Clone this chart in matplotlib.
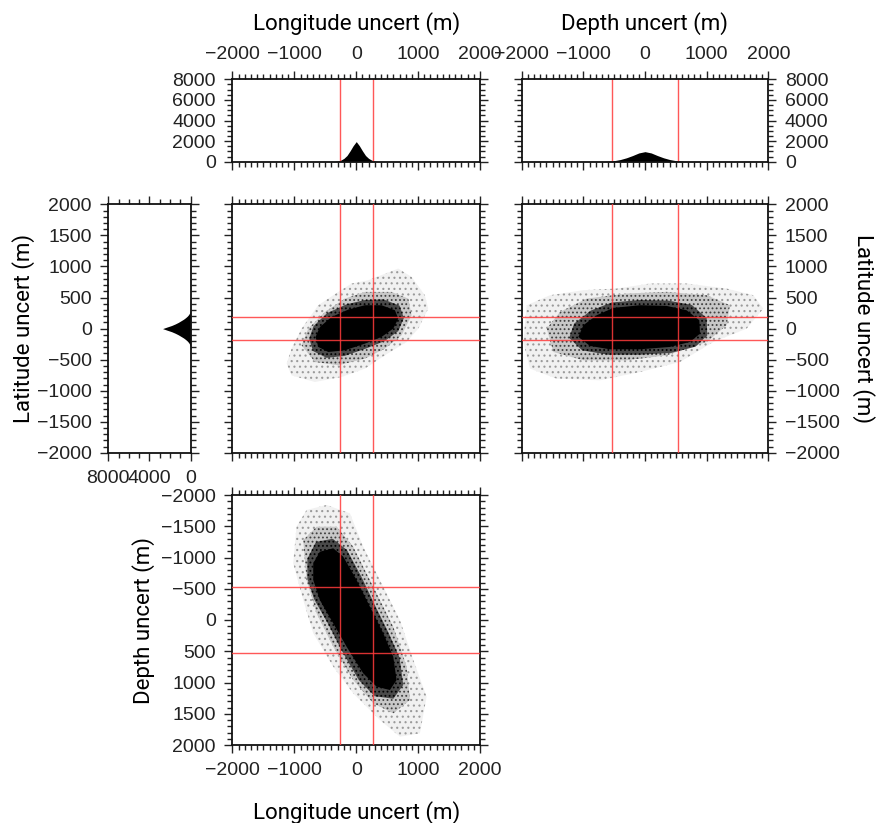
import matplotlib
matplotlib.use("Agg")
import matplotlib.pyplot as plt
from matplotlib.ticker import MultipleLocator

# ---------------- data ----------------
# histogram of longitude uncertainty (bin centre m, count)
lon_bins = [-450, -400, -350, -300, -250, -200, -150, -100, -50, 0,
            50, 100, 150, 200, 250, 300, 350, 400, 450]
lon_counts = [0, 5, 20, 60, 150, 320, 600, 1050, 1550, 1950,
              1550, 1050, 600, 320, 150, 60, 20, 5, 0]

# histogram of depth uncertainty
dep_bins = [-800, -700, -600, -500, -400, -300, -200, -100, 0,
            100, 200, 300, 400, 500, 600, 700, 800]
dep_counts = [0, 10, 40, 100, 210, 380, 600, 850, 975,
              850, 600, 380, 210, 100, 40, 10, 0]

# histogram of latitude uncertainty
lat_bins = [-325, -300, -275, -250, -225, -200, -175, -150, -125, -100, -75, -50, -25, 0,
            25, 50, 75, 100, 125, 150, 175, 200, 225, 250, 275, 300, 325]
lat_counts = [0, 20, 50, 110, 200, 330, 500, 700, 950, 1200, 1500, 1850, 2300, 2730,
              2300, 1850, 1500, 1200, 950, 700, 500, 330, 200, 110, 50, 20, 0]

# uncertainty limits (red lines)
lon_lim = [-270, 270]
lat_lim = [-188, 188]
dep_lim = [-533, 533]

# scatter clouds: outlines of density bands (sparse, medium, dense fringe, solid core)
# longitude vs latitude
ll_outer_lon = [-1125, -1045, -883, -614, -291, -75, 194, 679, 894, 1109, 1163, 1002, 813, 463, 140, -237, -668, -1045]
ll_outer_lat = [-564, -322, 0, 376, 590, 725, 778, 966, 832, 537, 322, 0, -215, -429, -644, -778, -859, -752]
ll_mid_lon = [-883, -775, -506, -183, 140, 571, 840, 894, 732, 463, 140, -291, -668]
ll_mid_lat = [-268, 0, 268, 483, 590, 590, 483, 215, -107, -322, -483, -590, -537]
ll_fringe_lon = [-760, -690, -470, -160, 140, 440, 700, 770, 680, 460, 160, -190, -480, -700]
ll_fringe_lat = [-160, 40, 250, 390, 460, 470, 370, 170, -40, -200, -320, -440, -470, -360]
ll_core_lon = [-657, -587, -398, -129, 140, 409, 625, 679, 598, 409, 140, -183, -452, -614]
ll_core_lat = [-134, 27, 188, 306, 376, 376, 295, 161, 0, -134, -242, -349, -376, -295]

# depth vs latitude
dl_outer_dep = [-1919, -1540, -1000, -459, 81, 676, 1324, 1757, 1919, 1649, 1108, 568, -81, -730, -1432, -1865, -1973]
dl_outer_lat = [376, 537, 618, 644, 725, 725, 644, 537, 322, 0, -215, -537, -698, -832, -806, -644, -215]
dl_mid_dep = [-1594, -1378, -946, -297, 351, 1000, 1378, 1324, 1000, 351, -297, -1000, -1486]
dl_mid_lat = [0, 269, 483, 564, 591, 537, 376, 54, -215, -430, -510, -510, -376]
dl_fringe_dep = [-1230, -1150, -880, -540, -80, 380, 760, 1000, 1010, 820, 430, -80, -600, -1020]
dl_fringe_lat = [-150, 80, 290, 420, 460, 450, 380, 170, -110, -290, -390, -420, -420, -350]
dl_core_dep = [-1081, -1000, -784, -513, -81, 351, 676, 881, 892, 730, 405, -81, -568, -892]
dl_core_lat = [-134, 54, 215, 333, 376, 365, 295, 134, -81, -215, -295, -333, -333, -279]

# longitude vs depth
ld_outer_lon = [-965, -803, -480, -102, 113, 437, 706, 922, 1137, 1029, 706, 383, -49, -372, -695, -857, -1019]
ld_outer_dep = [-1493, -1760, -1840, -1707, -1173, -533, 0, 640, 1227, 1813, 1867, 1600, 1173, 747, 213, -320, -907]
ld_mid_lon = [-857, -641, -318, -49, 275, 598, 814, 868, 598, 275, -49, -372, -641, -803]
ld_mid_dep = [-1280, -1493, -1493, -1173, -533, 107, 747, 1280, 1493, 1333, 960, 427, -107, -640]
ld_fringe_lon = [-790, -650, -380, -150, 90, 300, 520, 700, 760, 600, 300, 40, -240, -450, -680, -790]
ld_fringe_dep = [-980, -1250, -1300, -1120, -680, -240, 200, 600, 1040, 1260, 1220, 960, 480, 70, -330, -660]
ld_core_lon = [-695, -588, -372, -210, 5, 221, 437, 598, 652, 544, 329, 113, -156, -372, -588, -695]
ld_core_dep = [-907, -1093, -1147, -1013, -640, -213, 213, 587, 960, 1120, 1067, 853, 427, 53, -320, -640]

LON_LABEL = "Longitude uncert (m)"
LAT_LABEL = "Latitude uncert (m)"
DEP_LABEL = "Depth uncert (m)"

# ---------------- styling ----------------
plt.rcParams["font.family"] = ["Liberation Sans", "DejaVu Sans"]
plt.rcParams["font.size"] = 14
plt.rcParams["hatch.linewidth"] = 0.8
LABEL_FONT = dict(family=["Roboto", "DejaVu Sans"], fontsize=16, color="black")
RED = "#ff3b3b"
# (face colour, speckle colour, hatch) per band, from sparse to solid
BAND_STYLES = [("#f1f1f1", "#9a9a9a", "..."),
               ("#c8c8c8", "#404040", "...."),
               ("#4a4a4a", "#000000", "...."),
               ("#000000", "#000000", None)]

W, H = 878, 823
fig = plt.figure(figsize=(W / 100, H / 100), dpi=100)


def add_axes(left, top, right, bottom):
    return fig.add_axes([left / W, 1 - bottom / H, (right - left) / W, (bottom - top) / H])


def style(ax, xmaj, xmin, ymaj, ymin, lt=False, lb=False, ll=False, lr=False):
    ax.xaxis.set_major_locator(MultipleLocator(xmaj))
    ax.xaxis.set_minor_locator(MultipleLocator(xmin))
    ax.yaxis.set_major_locator(MultipleLocator(ymaj))
    ax.yaxis.set_minor_locator(MultipleLocator(ymin))
    ax.tick_params(which="both", direction="out", top=True, bottom=True, left=True, right=True,
                   width=1.0, color="#222222", labelcolor="#222222", pad=6,
                   labeltop=lt, labelbottom=lb, labelleft=ll, labelright=lr)
    ax.tick_params(which="major", length=6)
    ax.tick_params(which="minor", length=3.5)
    for s in ax.spines.values():
        s.set_linewidth(1.3)
        s.set_color("#111111")


x_lo, x_hi = 232.5, 480.0
r_lo, r_hi = 521.7, 768.3
t_lo, t_hi = 79.3, 161.7
m_lo, m_hi = 204.3, 452.9
b_lo, b_hi = 495.0, 745.0
l_lo, l_hi = 108.3, 190.7

ax_hlon = add_axes(x_lo, t_lo, x_hi, t_hi)
ax_hdep = add_axes(r_lo, t_lo, r_hi, t_hi)
ax_hlat = add_axes(l_lo, m_lo, l_hi, m_hi)
ax_ll = add_axes(x_lo, m_lo, x_hi, m_hi)
ax_dl = add_axes(r_lo, m_lo, r_hi, m_hi)
ax_ld = add_axes(x_lo, b_lo, x_hi, b_hi)

# --- top histograms
ax_hlon.fill_between(lon_bins, lon_counts, 0, color="black", lw=0)
for v in lon_lim:
    ax_hlon.axvline(v, color=RED, lw=1.0, alpha=0.85)
ax_hlon.set_xlim(-2000, 2000)
ax_hlon.set_ylim(0, 8000)
style(ax_hlon, 1000, 100, 2000, 500, lt=True, ll=True)
ax_hlon.xaxis.set_label_position("top")
ax_hlon.set_xlabel(LON_LABEL, labelpad=11, **LABEL_FONT)

ax_hdep.fill_between(dep_bins, dep_counts, 0, color="black", lw=0)
for v in dep_lim:
    ax_hdep.axvline(v, color=RED, lw=1.0, alpha=0.85)
ax_hdep.set_xlim(-2000, 2000)
ax_hdep.set_ylim(0, 8000)
style(ax_hdep, 1000, 100, 2000, 500, lt=True, lr=True)
ax_hdep.xaxis.set_label_position("top")
ax_hdep.set_xlabel(DEP_LABEL, labelpad=11, **LABEL_FONT)

# --- left histogram (latitude)
ax_hlat.fill_betweenx(lat_bins, lat_counts, 0, color="black", lw=0)
ax_hlat.set_xlim(8000, 0)
ax_hlat.set_ylim(-2000, 2000)
style(ax_hlat, 4000, 1000, 500, 100, lb=True, ll=True)
ax_hlat.set_ylabel(LAT_LABEL, labelpad=1, **LABEL_FONT)


def cloud(ax, bands):
    for (xs, ys), (fc, hc, hatch) in zip(bands, BAND_STYLES):
        ax.fill(xs, ys, facecolor=fc, edgecolor=hc, hatch=hatch, lw=0, zorder=1)


# --- longitude vs latitude
cloud(ax_ll, [(ll_outer_lon, ll_outer_lat), (ll_mid_lon, ll_mid_lat),
              (ll_fringe_lon, ll_fringe_lat), (ll_core_lon, ll_core_lat)])
for v in lon_lim:
    ax_ll.axvline(v, color=RED, lw=1.0, alpha=0.85, zorder=3)
for v in lat_lim:
    ax_ll.axhline(v, color=RED, lw=1.0, alpha=0.85, zorder=3)
ax_ll.set_xlim(-2000, 2000)
ax_ll.set_ylim(-2000, 2000)
style(ax_ll, 1000, 100, 500, 100)

# --- depth vs latitude
cloud(ax_dl, [(dl_outer_dep, dl_outer_lat), (dl_mid_dep, dl_mid_lat),
              (dl_fringe_dep, dl_fringe_lat), (dl_core_dep, dl_core_lat)])
for v in dep_lim:
    ax_dl.axvline(v, color=RED, lw=1.0, alpha=0.85, zorder=3)
for v in lat_lim:
    ax_dl.axhline(v, color=RED, lw=1.0, alpha=0.85, zorder=3)
ax_dl.set_xlim(-2000, 2000)
ax_dl.set_ylim(-2000, 2000)
style(ax_dl, 1000, 100, 500, 100, lr=True)
ax_dl.yaxis.set_label_position("right")
ax_dl.set_ylabel(LAT_LABEL, rotation=270, va="bottom", labelpad=9, **LABEL_FONT)

# --- longitude vs depth
cloud(ax_ld, [(ld_outer_lon, ld_outer_dep), (ld_mid_lon, ld_mid_dep),
              (ld_fringe_lon, ld_fringe_dep), (ld_core_lon, ld_core_dep)])
for v in lon_lim:
    ax_ld.axvline(v, color=RED, lw=1.0, alpha=0.85, zorder=3)
for v in dep_lim:
    ax_ld.axhline(v, color=RED, lw=1.0, alpha=0.85, zorder=3)
ax_ld.set_xlim(-2000, 2000)
ax_ld.set_ylim(2000, -2000)
style(ax_ld, 1000, 100, 500, 100, lb=True, ll=True)
ax_ld.set_xlabel(LON_LABEL, labelpad=16, **LABEL_FONT)
ax_ld.set_ylabel(DEP_LABEL, labelpad=4, **LABEL_FONT)

fig.savefig("out.png", dpi=100)
